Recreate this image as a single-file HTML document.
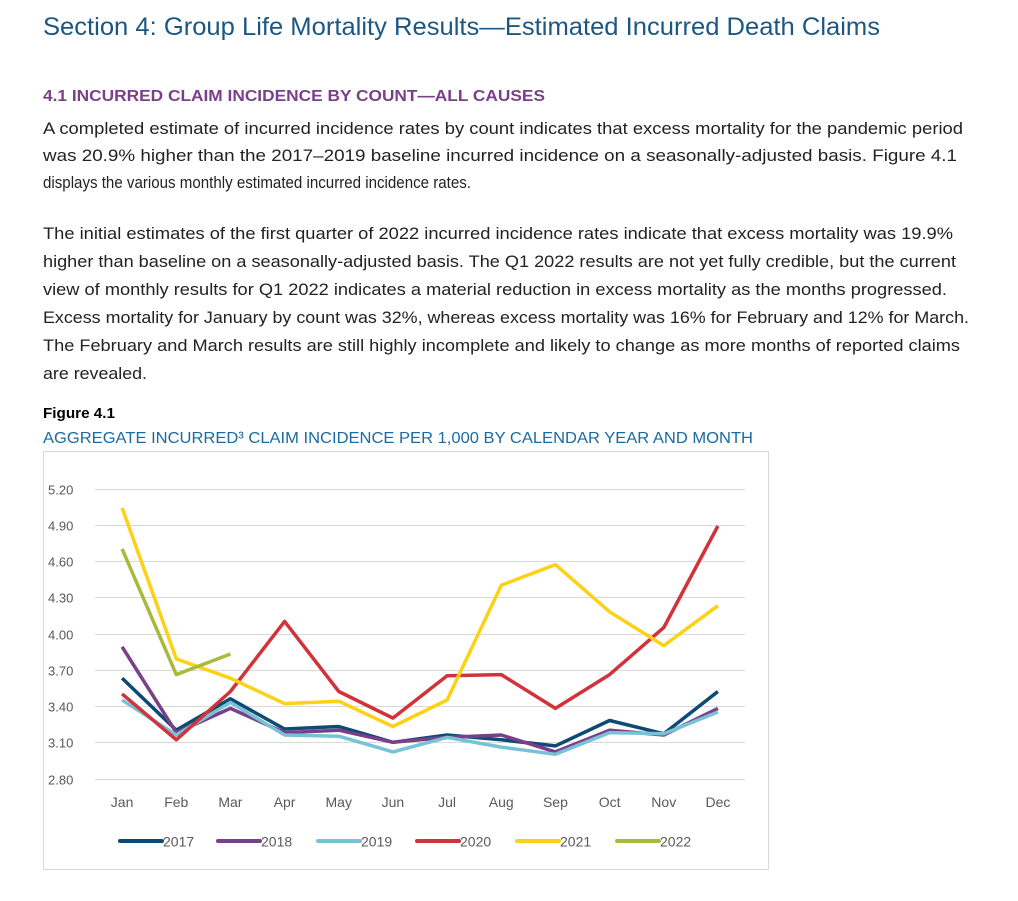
<!DOCTYPE html>
<html><head><meta charset="utf-8"><style>
html,body{margin:0;padding:0;background:#fff;}
svg{display:block;font-family:"Liberation Sans",sans-serif;}
</style></head><body>
<svg id="page" width="1018" height="901" viewBox="0 0 1018 901">
<text x="43" y="35" font-size="25" fill="#1b5784" textLength="837" lengthAdjust="spacingAndGlyphs">Section 4: Group Life Mortality Results—Estimated Incurred Death Claims</text>
<text x="43" y="101" font-size="16" font-weight="bold" fill="#7b3f8a" textLength="502" lengthAdjust="spacingAndGlyphs">4.1 INCURRED CLAIM INCIDENCE BY COUNT—ALL CAUSES</text>
<g font-size="17" fill="#222">
<text x="43" y="134" textLength="920" lengthAdjust="spacingAndGlyphs">A completed estimate of incurred incidence rates by count indicates that excess mortality for the pandemic period</text>
<text x="43" y="161" textLength="914" lengthAdjust="spacingAndGlyphs">was 20.9% higher than the 2017–2019 baseline incurred incidence on a seasonally-adjusted basis. Figure 4.1</text>
<text x="43" y="188" textLength="428" lengthAdjust="spacingAndGlyphs">displays the various monthly estimated incurred incidence rates.</text>
</g>
<g font-size="17" fill="#222">
<text x="43" y="239" textLength="910" lengthAdjust="spacingAndGlyphs">The initial estimates of the first quarter of 2022 incurred incidence rates indicate that excess mortality was 19.9%</text>
<text x="43" y="267" textLength="913" lengthAdjust="spacingAndGlyphs">higher than baseline on a seasonally-adjusted basis. The Q1 2022 results are not yet fully credible, but the current</text>
<text x="43" y="295" textLength="904" lengthAdjust="spacingAndGlyphs">view of monthly results for Q1 2022 indicates a material reduction in excess mortality as the months progressed.</text>
<text x="43" y="323" textLength="926" lengthAdjust="spacingAndGlyphs">Excess mortality for January by count was 32%, whereas excess mortality was 16% for February and 12% for March.</text>
<text x="43" y="351" textLength="917" lengthAdjust="spacingAndGlyphs">The February and March results are still highly incomplete and likely to change as more months of reported claims</text>
<text x="43" y="379" textLength="104" lengthAdjust="spacingAndGlyphs">are revealed.</text>
</g>
<text x="43" y="418" font-size="15" font-weight="bold" fill="#000" textLength="72" lengthAdjust="spacingAndGlyphs">Figure 4.1</text>
<text x="43" y="443" font-size="16" fill="#1b6aa0" textLength="710" lengthAdjust="spacingAndGlyphs">AGGREGATE INCURRED³ CLAIM INCIDENCE PER 1,000 BY CALENDAR YEAR AND MONTH</text>
<rect x="43.5" y="451.5" width="725" height="418" fill="#fff" stroke="#d9d9d9"/>
<g id="grid"></g><g id="ylab"></g><g id="xlab"></g><g id="lines"></g><g id="legend"></g>
</svg>
<script>
const months=["Jan","Feb","Mar","Apr","May","Jun","Jul","Aug","Sep","Oct","Nov","Dec"];
const yTicks=[2.80,3.10,3.40,3.70,4.00,4.30,4.60,4.90,5.20];
const seriesNames=["2017","2018","2019","2020","2021","2022"];
const seriesColors=["#0e4a73","#7b3f8a","#76c3d6","#d2333b","#fcd116","#a9b93b"];
const s2017=[3.63,3.20,3.46,3.21,3.23,3.10,3.16,3.12,3.07,3.28,3.17,3.52];
const s2018=[3.89,3.18,3.38,3.18,3.20,3.10,3.14,3.16,3.02,3.20,3.16,3.38];
const s2019=[3.45,3.16,3.43,3.16,3.15,3.02,3.14,3.06,3.00,3.18,3.17,3.35];
const s2020=[3.50,3.12,3.52,4.10,3.52,3.30,3.65,3.66,3.38,3.66,4.05,4.89];
const s2021=[5.04,3.79,3.63,3.42,3.44,3.23,3.45,4.40,4.57,4.18,3.90,4.23];
const s2022=[4.70,3.66,3.83];
const allSeries=[s2017,s2018,s2019,s2020,s2021,s2022];
const NS="http://www.w3.org/2000/svg";
const yMin=2.8,yMax=5.2,plotTop=488.5,plotBot=778.5,plotLeft=95,plotRight=745;
const step=(plotRight-plotLeft)/12;
function xPos(i){return plotLeft+step*(i+0.5);}
function yPos(v){return plotBot-(v-yMin)/(yMax-yMin)*(plotBot-plotTop);}
function mk(tag,attrs,parent){const e=document.createElementNS(NS,tag);for(const k in attrs)e.setAttribute(k,attrs[k]);parent.appendChild(e);return e;}
const grid=document.getElementById('grid'),ylab=document.getElementById('ylab'),xlab=document.getElementById('xlab'),lines=document.getElementById('lines'),legend=document.getElementById('legend');
yTicks.forEach(t=>{
  const y=Math.round(yPos(t))+0.5;
  const g=mk('line',{x1:plotLeft,x2:plotRight,y1:y,y2:y,stroke:'#d9d9d9','stroke-width':1},grid);
  
  
  const l=mk('text',{x:48,y:y+5,'font-size':13,fill:'#595959'},ylab);
  l.textContent=t.toFixed(2);
  
  
});
months.forEach((m,i)=>{
  const l=mk('text',{x:xPos(i),y:807,'font-size':14,fill:'#595959','text-anchor':'middle'},xlab);
  l.textContent=m;
  
  
});
allSeries.forEach((s,k)=>{
  const pts=s.map((v,i)=>xPos(i).toFixed(1)+','+yPos(v).toFixed(1)).join(' ');
  const p=mk('polyline',{points:pts,fill:'none',stroke:seriesColors[k],'stroke-width':3.5,'stroke-linejoin':'round'},lines);
  
  
});
const legX=[120,218,318,417,517,617];
seriesNames.forEach((n,k)=>{
  const g=mk('g',{},legend);
  
  
  mk('line',{x1:legX[k],x2:legX[k]+42,y1:841,y2:841,stroke:seriesColors[k],'stroke-width':4,'stroke-linecap':'round'},g);
  const t=mk('text',{x:legX[k]+43,y:846.5,'font-size':14,fill:'#595959'},g);
  t.textContent=n;
});
</script>
</body></html>
